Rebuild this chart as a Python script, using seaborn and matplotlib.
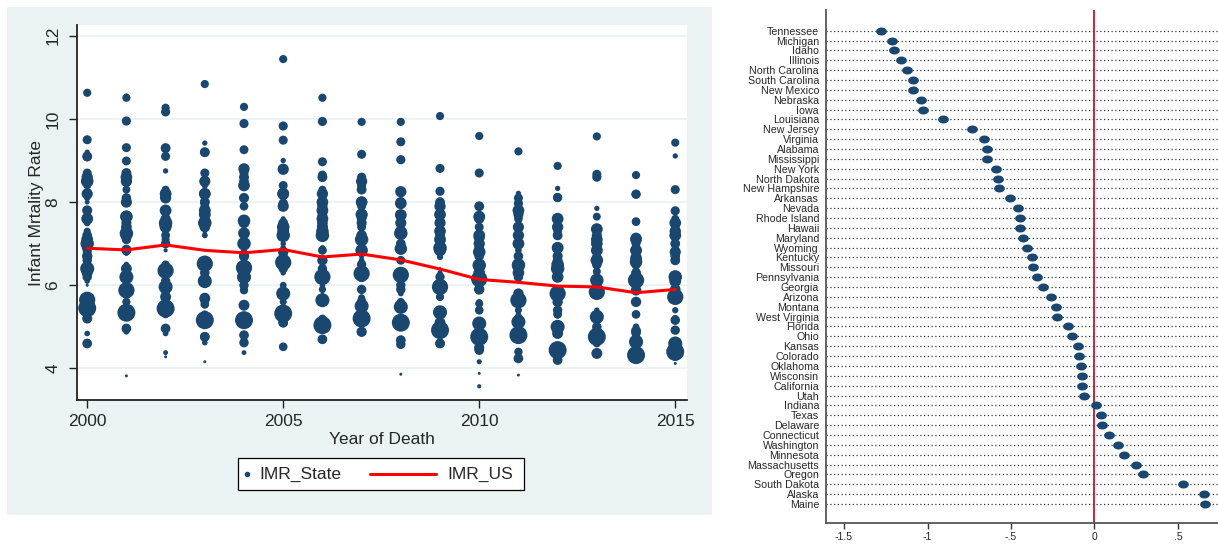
import numpy as np
import pandas as pd
import matplotlib
matplotlib.use("Agg")
import matplotlib.pyplot as plt
import seaborn as sns
from matplotlib.patches import Rectangle
from matplotlib.lines import Line2D
from matplotlib.path import Path

# ---------------- data ----------------
years = list(range(2000, 2016))
imr_us = [6.89, 6.85, 6.97, 6.84, 6.78, 6.86, 6.68, 6.75, 6.61, 6.39, 6.14, 6.07, 5.98, 5.96, 5.82, 5.90]

state_codes = ["CA", "TX", "NY", "FL", "IL", "PA", "OH", "GA", "MI", "NC", "NJ", "VA", "AZ", "WA", "IN",
               "MA", "TN", "MO", "MD", "WI", "MN", "CO", "AL", "LA", "MS", "SC", "KY", "OK", "OR", "UT",
               "CT", "IA", "AR", "KS", "NV", "NM", "NE", "WV", "ID", "HI", "NH", "ME", "RI", "MT", "DE",
               "SD", "AK", "ND", "VT", "WY"]
births_k = [530, 390, 250, 220, 175, 145, 145, 140, 120, 125, 112, 103, 95, 85, 86,
            76, 80, 77, 73, 68, 70, 68, 60, 63, 43, 58, 56, 52, 46, 52,
            40, 38, 38, 40, 36, 28, 26, 21, 23, 18, 13, 13, 12, 12, 11,
            11, 10, 9, 6, 7]

imr_state = {
    "CA": [5.45, 5.34, 5.44, 5.16, 5.16, 5.32, 5.04, 5.20, 5.10, 4.92, 4.76, 4.80, 4.44, 4.76, 4.32, 4.40],
    "TX": [5.65, 5.88, 6.35, 6.52, 6.42, 6.55, 6.20, 6.28, 6.25, 5.96, 6.15, 5.64, 5.80, 5.84, 6.12, 5.72],
    "NY": [6.40, 6.20, 5.96, 6.10, 6.20, 5.80, 5.64, 5.50, 5.48, 5.35, 5.08, 5.12, 5.00, 5.24, 4.64, 4.60],
    "FL": [7.00, 7.25, 7.50, 7.50, 7.00, 7.20, 7.20, 7.10, 7.25, 6.90, 6.48, 6.48, 6.40, 6.12, 6.12, 6.20],
    "IL": [8.50, 7.65, 7.45, 7.50, 7.55, 7.40, 7.30, 6.84, 6.88, 6.85, 6.80, 6.50, 6.50, 6.60, 6.56, 6.20],
    "PA": [7.10, 7.20, 7.40, 7.80, 7.25, 7.30, 7.60, 7.70, 7.29, 7.10, 7.20, 7.00, 6.90, 6.84, 6.65, 6.10],
    "OH": [7.60, 7.65, 7.80, 7.70, 7.55, 8.20, 7.80, 7.70, 7.69, 7.70, 7.65, 7.80, 7.60, 7.35, 6.84, 7.20],
    "GA": [8.50, 8.60, 8.20, 8.20, 8.40, 8.20, 8.00, 8.00, 7.97, 7.30, 6.30, 6.30, 6.20, 7.10, 7.10, 7.50],
    "MI": [8.20, 8.00, 8.10, 8.50, 7.55, 7.90, 7.40, 8.00, 7.50, 7.50, 7.15, 7.40, 6.90, 7.00, 6.84, 6.80],
    "NC": [8.60, 8.50, 8.20, 8.20, 8.80, 8.79, 8.20, 8.50, 8.25, 7.90, 7.00, 7.20, 7.40, 7.00, 7.13, 7.30],
    "NJ": [6.30, 6.40, 5.72, 5.68, 5.52, 5.20, 5.10, 5.20, 5.10, 5.10, 5.08, 4.80, 4.84, 4.36, 4.64, 4.60],
    "VA": [6.90, 7.40, 7.40, 7.40, 7.50, 7.45, 7.50, 7.20, 6.88, 6.85, 6.80, 6.50, 6.40, 6.10, 5.88, 5.90],
    "AZ": [6.70, 6.85, 6.30, 6.50, 6.70, 6.80, 6.60, 6.20, 6.30, 5.96, 5.90, 5.80, 5.60, 5.80, 5.60, 5.72],
    "WA": [5.20, 5.80, 5.90, 5.70, 5.52, 5.80, 5.00, 4.88, 5.10, 5.30, 4.50, 5.12, 4.90, 4.90, 4.90, 4.30],
    "IN": [7.80, 7.50, 7.60, 7.80, 8.10, 7.95, 7.90, 7.50, 6.88, 7.70, 7.60, 7.70, 6.70, 7.20, 7.13, 7.30],
    "MA": [4.60, 4.96, 4.96, 4.76, 4.80, 5.10, 4.70, 4.88, 4.68, 4.60, 4.44, 4.24, 4.20, 4.36, 4.32, 4.40],
    "TN": [9.10, 8.70, 9.30, 9.20, 8.60, 8.80, 8.60, 8.30, 8.00, 8.00, 7.90, 7.40, 7.20, 6.84, 6.80, 7.00],
    "MO": [7.20, 7.40, 7.80, 8.00, 7.50, 7.50, 7.70, 7.60, 7.00, 6.85, 6.90, 6.40, 6.60, 6.50, 6.30, 6.60],
    "MD": [7.60, 8.10, 7.40, 8.00, 8.50, 7.30, 7.90, 8.00, 8.00, 7.20, 6.70, 6.70, 6.50, 6.60, 6.50, 6.70],
    "WI": [6.60, 7.10, 7.00, 6.50, 6.00, 6.60, 6.40, 6.50, 6.00, 6.00, 5.90, 6.20, 6.40, 6.00, 6.00, 5.90],
    "MN": [5.60, 5.40, 5.44, 4.76, 4.62, 5.10, 5.00, 5.50, 4.58, 4.60, 4.50, 4.80, 5.00, 5.00, 4.85, 5.16],
    "CO": [6.20, 5.80, 6.10, 6.30, 6.30, 6.40, 6.20, 5.90, 5.90, 6.20, 5.90, 5.20, 5.40, 4.84, 4.64, 4.92],
    "AL": [9.50, 9.31, 9.10, 8.70, 8.70, 9.49, 8.97, 9.15, 9.45, 8.81, 8.70, 8.10, 8.11, 8.67, 8.19, 8.30],
    "LA": [9.09, 9.95, 10.17, 9.20, 9.89, 9.83, 9.94, 8.60, 9.02, 8.26, 7.60, 7.97, 8.11, 8.60, 8.19, 7.79],
    "MS": [10.63, 10.51, 10.27, 10.84, 10.29, 11.44, 10.51, 9.93, 9.93, 10.07, 9.59, 9.22, 8.87, 9.58, 8.65, 9.43],
    "SC": [8.70, 8.99, 9.29, 8.50, 9.26, 8.40, 8.65, 8.40, 7.97, 7.55, 7.40, 7.40, 7.60, 7.33, 7.00, 6.60],
    "KY": [6.80, 5.88, 7.20, 6.30, 6.76, 6.70, 6.84, 7.40, 6.60, 6.90, 6.80, 6.20, 6.90, 6.70, 6.30, 6.84],
    "OK": [8.50, 7.25, 7.60, 7.90, 7.90, 7.96, 8.00, 7.90, 8.25, 7.30, 7.90, 7.60, 7.30, 6.84, 7.53, 7.40],
    "OR": [5.60, 5.40, 5.72, 5.60, 5.88, 5.80, 5.64, 5.64, 5.48, 5.30, 5.00, 4.40, 4.84, 5.24, 4.85, 5.16],
    "UT": [5.30, 4.96, 5.60, 5.54, 5.20, 4.52, 4.70, 5.50, 4.68, 4.92, 5.40, 5.12, 5.30, 5.24, 5.30, 5.72],
    "CT": [6.60, 6.20, 6.50, 5.68, 5.52, 5.80, 6.20, 5.90, 5.60, 5.72, 5.56, 5.12, 5.30, 5.24, 4.85, 5.16],
    "IA": [6.50, 5.60, 5.30, 5.30, 5.20, 5.32, 5.20, 5.60, 5.48, 4.92, 4.76, 4.80, 4.44, 4.60, 4.32, 4.60],
    "AR": [8.40, 8.30, 8.30, 8.50, 8.50, 8.00, 8.30, 8.50, 7.69, 7.60, 7.60, 7.40, 6.90, 7.65, 7.53, 7.60],
    "KS": [6.80, 7.40, 7.10, 6.50, 6.76, 7.30, 7.40, 7.90, 7.29, 7.20, 6.20, 6.48, 6.20, 6.33, 6.30, 5.90],
    "NV": [6.50, 5.60, 6.30, 5.68, 5.52, 5.80, 5.64, 5.64, 5.88, 5.72, 5.40, 5.64, 5.30, 5.24, 5.30, 5.16],
    "NM": [6.60, 6.80, 6.20, 6.10, 6.30, 5.80, 5.90, 6.50, 6.30, 5.96, 5.56, 5.64, 5.40, 5.84, 6.12, 5.20],
    "NE": [7.30, 6.80, 7.00, 5.68, 6.20, 5.60, 5.60, 5.70, 5.48, 5.40, 5.40, 5.40, 5.00, 5.24, 4.64, 5.16],
    "WV": [7.60, 7.25, 7.70, 7.80, 7.50, 7.30, 7.40, 7.50, 7.29, 7.30, 7.60, 6.84, 7.20, 7.00, 6.84, 7.00],
    "ID": [7.50, 6.20, 6.10, 6.50, 6.45, 6.00, 6.20, 6.28, 5.88, 5.30, 5.08, 5.12, 4.84, 5.24, 5.00, 5.16],
    "HI": [8.10, 6.20, 7.30, 8.40, 7.00, 7.20, 6.20, 6.40, 6.30, 6.68, 6.48, 4.80, 5.00, 4.76, 4.64, 5.40],
    "NH": [5.70, 4.88, 4.84, 4.62, 4.62, 4.52, 4.70, 5.20, 4.58, 4.60, 4.44, 4.24, 4.20, 4.36, 4.64, 4.60],
    "ME": [4.84, 5.80, 6.30, 5.10, 5.88, 6.90, 6.20, 6.60, 5.80, 5.96, 5.60, 6.48, 6.20, 7.00, 6.80, 6.70],
    "RI": [6.30, 6.80, 7.20, 7.20, 5.50, 6.30, 6.00, 7.00, 7.20, 7.20, 7.00, 6.84, 6.70, 6.60, 6.00, 4.92],
    "MT": [6.10, 6.50, 7.00, 7.20, 5.90, 7.00, 6.30, 6.20, 6.10, 6.70, 5.90, 5.30, 5.40, 5.40, 5.90, 6.00],
    "DE": [9.20, 10.55, 8.75, 9.42, 9.26, 9.00, 8.30, 8.40, 9.45, 8.30, 7.90, 8.21, 7.60, 7.85, 7.00, 9.11],
    "SD": [5.50, 7.30, 6.50, 8.40, 8.80, 7.30, 6.90, 6.70, 7.30, 7.10, 7.30, 7.00, 8.33, 7.10, 5.88, 7.50],
    "AK": [6.80, 8.00, 5.50, 8.60, 6.50, 7.60, 6.60, 7.90, 6.90, 6.30, 4.16, 6.20, 5.80, 6.10, 6.40, 6.00],
    "ND": [8.00, 8.50, 4.38, 6.00, 4.38, 5.90, 6.90, 5.90, 5.90, 6.68, 6.80, 6.30, 6.50, 6.80, 6.30, 6.60],
    "VT": [6.00, 3.82, 4.28, 4.16, 5.10, 6.00, 5.80, 5.70, 3.86, 6.40, 3.88, 3.84, 5.00, 4.80, 4.60, 4.12],
    "WY": [6.70, 6.76, 6.84, 7.25, 6.80, 7.00, 6.84, 6.84, 6.90, 6.68, 3.57, 6.30, 6.90, 5.70, 5.90, 4.60],
}

effect_states = ["Tennessee", "Michigan", "Idaho", "Illinois", "North Carolina", "South Carolina",
                 "New Mexico", "Nebraska", "Iowa", "Louisiana", "New Jersey", "Virginia", "Alabama",
                 "Mississippi", "New York", "North Dakota", "New Hampshire", "Arkansas", "Nevada",
                 "Rhode Island", "Hawaii", "Maryland", "Wyoming", "Kentucky", "Missouri", "Pennsylvania",
                 "Georgia", "Arizona", "Montana", "West Virginia", "Florida", "Ohio", "Kansas", "Colorado",
                 "Oklahoma", "Wisconsin", "California", "Utah", "Indiana", "Texas", "Delaware",
                 "Connecticut", "Washington", "Minnesota", "Massachusetts", "Oregon", "South Dakota",
                 "Alaska", "Maine"]
effect_values = [-1.277, -1.213, -1.199, -1.156, -1.123, -1.086, -1.084, -1.038, -1.024, -0.908,
                 -0.734, -0.659, -0.644, -0.642, -0.589, -0.575, -0.571, -0.503, -0.455, -0.447,
                 -0.445, -0.429, -0.403, -0.373, -0.367, -0.343, -0.311, -0.259, -0.231, -0.222,
                 -0.159, -0.134, -0.098, -0.094, -0.078, -0.072, -0.072, -0.062, 0.010, 0.040,
                 0.044, 0.086, 0.144, 0.176, 0.248, 0.290, 0.529, 0.659, 0.665]

# ---------------- styling ----------------
sns.set_style("white")
plt.rcParams["font.family"] = ["Liberation Sans", "DejaVu Sans"]

W, H = 1218, 544
fig = plt.figure(figsize=(W / 100, H / 100), dpi=100)
fig.patch.set_facecolor("white")

NAVY = "#1a476f"
PANEL = "#eaf2f3"
US_RED = "#ff0000"

# left panel background
fig.patches.append(Rectangle((7 / W, 1 - 515 / H), 705 / W, 508 / H, transform=fig.transFigure,
                             facecolor=PANEL, edgecolor="none", zorder=-5))

# ---------------- left panel ----------------
rows = []
for code, w in zip(state_codes, births_k):
    for yr, v in zip(years, imr_state[code]):
        rows.append({"state": code, "year": yr, "imr": v, "births": w})
df = pd.DataFrame(rows)
us = pd.DataFrame({"year": years, "imr": imr_us})

# marker diameter (px) grows with births, compressed like Stata's weighted markers
size_map = {w: (0.72 * (3.0 + 15.0 * ((w - 6) / 524.0) ** 0.4)) ** 2 for w in births_k}

ax = fig.add_axes([77 / W, 1 - 400 / H, 610 / W, 375 / H])
ax.set_facecolor("white")
for yv in [4, 6, 8, 10, 12]:
    ax.axhline(yv, color=PANEL, lw=1.3, zorder=0)
df = df.sort_values("births", ascending=False)
sns.scatterplot(data=df, x="year", y="imr", size="births", sizes=size_map, color=NAVY,
                linewidth=0, alpha=1, legend=False, ax=ax, zorder=2)
sns.lineplot(data=us, x="year", y="imr", color=US_RED, lw=2.2, ax=ax, zorder=3)

ax.set_xlim(1999.74, 2015.3)
ax.set_ylim(3.24, 12.26)
ax.set_xticks([2000, 2005, 2010, 2015])
ax.set_yticks([4, 6, 8, 10, 12])
ax.tick_params(axis="both", direction="out", length=6, width=1.0, color="#222222",
               labelsize=12.5, left=True, bottom=True)
ax.tick_params(axis="y", pad=6)
ax.tick_params(axis="x", pad=4)
for lab in ax.get_yticklabels():
    lab.set_rotation(90)
    lab.set_va("center")
ax.set_xlabel("Year of Death", fontsize=12.5, labelpad=2)
ax.set_ylabel("Infant Mrtality Rate", fontsize=12.5, labelpad=1)
for side in ["top", "right"]:
    ax.spines[side].set_visible(False)
for side in ["left", "bottom"]:
    ax.spines[side].set_color("#222222")
    ax.spines[side].set_linewidth(1.3)

# legend box drawn like the Stata legend
fig.patches.append(Rectangle((238 / W, 1 - 490 / H), 286 / W, 32 / H, transform=fig.transFigure,
                             facecolor="white", edgecolor="black", lw=0.9, zorder=5))
ly = 1 - 474 / H
fig.lines.append(Line2D([247 / W], [ly], transform=fig.transFigure, marker="o", markersize=3,
                        color=NAVY, linestyle="none", zorder=6))
fig.text(259 / W, ly, "IMR_State", fontsize=12.5, va="center", ha="left", zorder=6)
fig.lines.append(Line2D([370 / W, 436 / W], [ly, ly], transform=fig.transFigure, color=US_RED,
                        lw=2.2, zorder=6))
fig.text(447 / W, ly, "IMR_US", fontsize=12.5, va="center", ha="left", zorder=6)

# ---------------- right panel ----------------
ax2 = fig.add_axes([826 / W, 1 - 523 / H, 392 / W, 513 / H])
ax2.set_facecolor("white")
pos = np.arange(len(effect_states))
for p in pos:
    ax2.axhline(p, color="#333333", lw=0.9, linestyle=(0, (1, 2)), zorder=1)
ax2.axvline(0, color="#c4122f", lw=1.3, zorder=2)

t = np.linspace(0, 2 * np.pi, 60)
ell = Path(np.column_stack([np.cos(t), 0.74 * np.sin(t)]))
edf = pd.DataFrame({"state": effect_states, "value": effect_values, "pos": pos})
sns.scatterplot(data=edf, x="value", y="pos", marker=ell, s=60, color=NAVY, linewidth=0,
                legend=False, ax=ax2, zorder=3)

ax2.set_xlim(-1.608, 0.74)
ax2.set_ylim(len(effect_states) - 1 + 1.93, -2.1)
ax2.set_yticks(pos)
ax2.set_yticklabels(effect_states)
ax2.set_xticks([-1.5, -1, -0.5, 0, 0.5])
ax2.set_xticklabels(["-1.5", "-1", "-.5", "0", ".5"])
ax2.tick_params(axis="y", length=0, labelsize=7.7, pad=5)
ax2.tick_params(axis="x", direction="out", length=4, width=1.0, color="#333333",
                labelsize=7.5, pad=2.5, bottom=True)
ax2.set_xlabel("")
ax2.set_ylabel("")
for side in ["top", "right"]:
    ax2.spines[side].set_visible(False)
for side in ["left", "bottom"]:
    ax2.spines[side].set_color("#555555")
    ax2.spines[side].set_linewidth(1.3)

fig.savefig("out.png", dpi=100)
